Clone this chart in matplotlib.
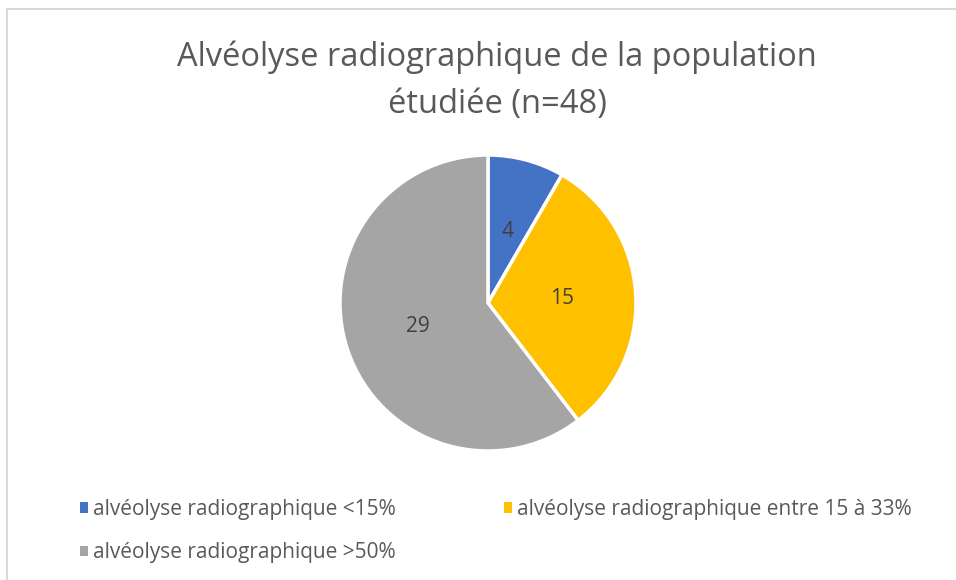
import matplotlib.pyplot as plt
from matplotlib.patches import Rectangle

plt.rcParams["font.family"] = ["Open Sans", "DejaVu Sans"]

# données
categories = ["alvéolyse radiographique <15%",
              "alvéolyse radiographique entre 15 à 33%",
              "alvéolyse radiographique >50%"]
effectifs = [4, 15, 29]
couleurs = ["#4472C4", "#FFC000", "#A5A5A5"]
titre = "Alvéolyse radiographique de la population\nétudiée (n=48)"

total = sum(effectifs)
texte = "#595959"

fig = plt.figure(figsize=(9.56, 5.8), dpi=100)

# cadre gris clair
fig.patches.append(Rectangle((7 / 956, -0.1), 1.2, (580 - 9.5) / 580 + 0.1,
                             transform=fig.transFigure, fill=False,
                             edgecolor="#d9d9d9", linewidth=1.5))

# camembert
W, H = 956, 580
cx, cy, r = 488, 303, 148
ax = fig.add_axes([(cx - r) / W, (H - cy - r) / H, 2 * r / W, 2 * r / H])
wedges, _, autotexts = ax.pie(
    effectifs, colors=couleurs, startangle=90, counterclock=False,
    autopct=lambda p: f"{round(p * total / 100)}", pctdistance=0.5,
    wedgeprops=dict(edgecolor="white", linewidth=2.5),
    textprops=dict(color="#404040", fontsize=15))
ax.set_xlim(-1, 1)
ax.set_ylim(-1, 1)
ax.set_aspect("equal")
ax.axis("off")

# titre
fig.text(497 / W, 1 - 80.5 / H, titre, ha="center", va="center", fontsize=23.5,
         color=texte, linespacing=1.55)

# légende (ordre pour remplir par lignes)
ordre = [0, 2, 1]
leg = fig.legend([wedges[i] for i in ordre], [categories[i] for i in ordre],
                 ncol=2, loc="upper left", bbox_to_anchor=(80 / W, 1 - 499 / H),
                 frameon=False, fontsize=15, labelcolor=texte,
                 handlelength=0.37, handleheight=0.37, handletextpad=0.25,
                 columnspacing=5.2, labelspacing=1.06, borderpad=0,
                 borderaxespad=0)
for h in leg.legend_handles:
    h.set_edgecolor("none")

fig.savefig("out.png", dpi=100)
